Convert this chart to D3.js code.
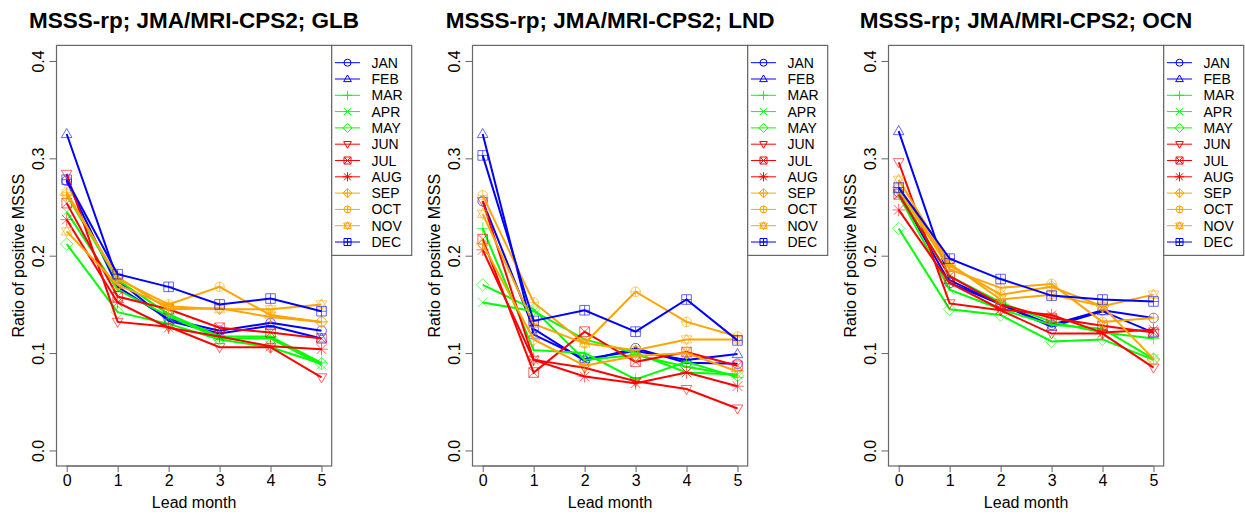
<!DOCTYPE html>
<html>
<head>
<meta charset="utf-8">
<script src="https://cdn.jsdelivr.net/npm/d3@7"></script>
<style>
  body { margin: 0; background: #fff; }
  svg { display: block; font-family: "Liberation Sans", Arial, sans-serif; }
</style>
</head>
<body>
<svg id="chart" width="1245" height="518"></svg>
<script>
// lead months and series names
const leads = [0, 1, 2, 3, 4, 5];
const months = ["JAN", "FEB", "MAR", "APR", "MAY", "JUN", "JUL", "AUG", "SEP", "OCT", "NOV", "DEC"];
const monthColors = ["#0000ff", "#0000ff", "#00ff00", "#00ff00", "#00ff00", "#ff0000",
                     "#ff0000", "#ff0000", "#ffa500", "#ffa500", "#ffa500", "#0000ff"];
const regions = ["GLB", "LND", "OCN"];
const yTicks = [0.0, 0.1, 0.2, 0.3, 0.4];

// ratio of positive MSSS, one row per start month (JAN..DEC), leads 0..5
const glbValues = [
  [0.277, 0.168, 0.135, 0.123, 0.131, 0.123],
  [0.325, 0.175, 0.133, 0.120, 0.128, 0.115],
  [0.262, 0.175, 0.140, 0.117, 0.117, 0.090],
  [0.245, 0.165, 0.138, 0.115, 0.115, 0.088],
  [0.212, 0.142, 0.130, 0.114, 0.106, 0.089],
  [0.284, 0.132, 0.127, 0.106, 0.106, 0.075],
  [0.254, 0.158, 0.145, 0.126, 0.121, 0.115],
  [0.237, 0.152, 0.126, 0.117, 0.107, 0.104],
  [0.263, 0.178, 0.145, 0.146, 0.137, 0.132],
  [0.265, 0.176, 0.150, 0.168, 0.139, 0.132],
  [0.225, 0.170, 0.148, 0.145, 0.145, 0.150],
  [0.278, 0.181, 0.168, 0.150, 0.156, 0.143]
];
const lndValues = [
  [0.256, 0.125, 0.092, 0.105, 0.090, 0.089],
  [0.325, 0.119, 0.094, 0.102, 0.093, 0.099],
  [0.228, 0.103, 0.100, 0.073, 0.091, 0.075],
  [0.152, 0.143, 0.114, 0.100, 0.080, 0.078],
  [0.170, 0.145, 0.093, 0.098, 0.086, 0.077],
  [0.256, 0.093, 0.085, 0.071, 0.063, 0.043],
  [0.217, 0.080, 0.122, 0.091, 0.101, 0.087],
  [0.206, 0.093, 0.076, 0.069, 0.080, 0.066],
  [0.212, 0.114, 0.087, 0.097, 0.100, 0.081],
  [0.262, 0.152, 0.110, 0.163, 0.132, 0.117],
  [0.243, 0.130, 0.110, 0.103, 0.114, 0.114],
  [0.303, 0.133, 0.144, 0.122, 0.155, 0.113]
];
const ocnValues = [
  [0.265, 0.172, 0.150, 0.129, 0.144, 0.136],
  [0.328, 0.175, 0.150, 0.127, 0.143, 0.121],
  [0.265, 0.179, 0.152, 0.132, 0.121, 0.115],
  [0.262, 0.165, 0.145, 0.129, 0.125, 0.094],
  [0.228, 0.145, 0.139, 0.112, 0.114, 0.093],
  [0.296, 0.151, 0.144, 0.120, 0.120, 0.085],
  [0.263, 0.179, 0.150, 0.136, 0.128, 0.121],
  [0.247, 0.172, 0.145, 0.139, 0.121, 0.124],
  [0.270, 0.190, 0.160, 0.168, 0.148, 0.094],
  [0.268, 0.186, 0.167, 0.171, 0.132, 0.136],
  [0.278, 0.192, 0.155, 0.160, 0.148, 0.160],
  [0.270, 0.197, 0.176, 0.159, 0.155, 0.153]
];
const panelValues = [glbValues, lndValues, ocnValues];

// R pch 1..12 drawn as svg paths, size s = half width
function symbolPath(i, s) {
  const c = (r) => `M${-r},0A${r},${r} 0 1,0 ${r},0A${r},${r} 0 1,0 ${-r},0`;
  const plus = (r) => `M${-r},0L${r},0M0,${-r}L0,${r}`;
  const cross = (r) => `M${-r},${-r}L${r},${r}M${-r},${r}L${r},${-r}`;
  const up = (r) => `M0,${-r * 1.15}L${r * 1.1},${r * 0.75}L${-r * 1.1},${r * 0.75}Z`;
  const down = (r) => `M0,${r * 1.15}L${r * 1.1},${-r * 0.75}L${-r * 1.1},${-r * 0.75}Z`;
  const sq = (r) => `M${-r},${-r}H${r}V${r}H${-r}Z`;
  const dia = (r) => `M0,${-r * 1.3}L${r * 1.3},0L0,${r * 1.3}L${-r * 1.3},0Z`;
  switch (i) {
    case 0: return c(s);
    case 1: return up(s);
    case 2: return plus(s * 1.3);
    case 3: return cross(s);
    case 4: return dia(s);
    case 5: return down(s);
    case 6: return sq(s) + cross(s);
    case 7: return plus(s * 1.3) + cross(s);
    case 8: return dia(s) + plus(s * 1.3);
    case 9: return c(s) + plus(s);
    case 10: return up(s) + down(s);
    case 11: return sq(s) + plus(s);
  }
}

const svg = d3.select("#chart");
const panelStep = 416;

regions.forEach((reg, p) => {
  const g = svg.append("g").attr("transform", `translate(${p * panelStep},0)`);
  const boxL = 56.5, boxR = 331.7, boxT = 45.4, boxB = 466;

  const x = d3.scaleLinear().domain([-0.2, 5.2]).range([boxL, boxR]);
  const y = d3.scaleLinear().domain([-0.016, 0.416]).range([boxB, boxT]);

  // title
  g.append("text")
    .attr("x", (boxL + boxR) / 2).attr("y", 28)
    .attr("text-anchor", "middle")
    .attr("font-size", "22.5px").attr("font-weight", "bold")
    .text(`MSSS-rp; JMA/MRI-CPS2; ${reg}`);

  // x axis
  const xAxis = g.append("g")
    .attr("transform", `translate(0,${boxB})`)
    .call(d3.axisBottom(x).tickValues(leads).tickSize(6).tickPadding(3).tickFormat(d3.format("d")));
  xAxis.select(".domain").attr("d", `M${x(0)},0H${x(5)}`).attr("stroke", "#666");
  xAxis.selectAll(".tick line").attr("stroke", "#666");
  xAxis.selectAll(".tick text").attr("font-size", "16px").attr("font-family", "Liberation Sans, Arial, sans-serif").attr("fill", "#000");

  // y axis
  const yAxis = g.append("g")
    .attr("transform", `translate(${boxL},0)`)
    .call(d3.axisLeft(y).tickValues(yTicks).tickSize(7).tickFormat(d3.format(".1f")));
  yAxis.select(".domain").attr("d", `M0,${y(0)}V${y(0.4)}`).attr("stroke", "#666");
  yAxis.selectAll(".tick line").attr("stroke", "#666");
  yAxis.selectAll(".tick text")
    .attr("font-size", "16px").attr("font-family", "Liberation Sans, Arial, sans-serif").attr("fill", "#000")
    .attr("x", null).attr("dy", null)
    .attr("text-anchor", "middle")
    .attr("transform", "translate(-13,0) rotate(-90)");

  // plot box
  g.append("rect")
    .attr("x", boxL).attr("y", boxT)
    .attr("width", boxR - boxL).attr("height", boxB - boxT)
    .attr("fill", "none").attr("stroke", "#666").attr("stroke-width", 1.2);

  // axis titles
  g.append("text")
    .attr("x", (boxL + boxR) / 2).attr("y", 508)
    .attr("text-anchor", "middle").attr("font-size", "16px")
    .text("Lead month");
  g.append("text")
    .attr("transform", `translate(24,${(boxT + boxB) / 2}) rotate(-90)`)
    .attr("text-anchor", "middle").attr("font-size", "16px")
    .text("Ratio of positive MSSS");

  // series
  const line = d3.line().x((d, i) => x(leads[i])).y(d => y(d));
  const vals = panelValues[p];
  vals.forEach((row, m) => {
    g.append("path")
      .attr("d", line(row))
      .attr("fill", "none")
      .attr("stroke", monthColors[m])
      .attr("stroke-width", 2);
    g.selectAll(null)
      .data(row)
      .enter().append("path")
      .attr("transform", (d, i) => `translate(${x(leads[i])},${y(d)})`)
      .attr("d", symbolPath(m, 4.8))
      .attr("fill", "none")
      .attr("stroke", monthColors[m])
      .attr("stroke-opacity", 0.6)
      .attr("stroke-width", 1);
  });

  // legend
  const lg = g.append("g");
  lg.append("rect")
    .attr("x", boxR).attr("y", boxT)
    .attr("width", 80).attr("height", 210)
    .attr("fill", "#fff").attr("stroke", "#666").attr("stroke-width", 1.2);
  months.forEach((mo, m) => {
    const ly = 62.7 + m * 16.3;
    lg.append("line")
      .attr("x1", 335).attr("x2", 360).attr("y1", ly).attr("y2", ly)
      .attr("stroke", monthColors[m]).attr("stroke-width", 1);
    lg.append("path")
      .attr("transform", `translate(347.5,${ly})`)
      .attr("d", symbolPath(m, 3.5))
      .attr("fill", "none").attr("stroke", monthColors[m]).attr("stroke-width", 1);
    lg.append("text")
      .attr("x", 371.5).attr("y", ly + 5)
      .attr("font-size", "14px")
      .text(mo);
  });
});
</script>
</body>
</html>
